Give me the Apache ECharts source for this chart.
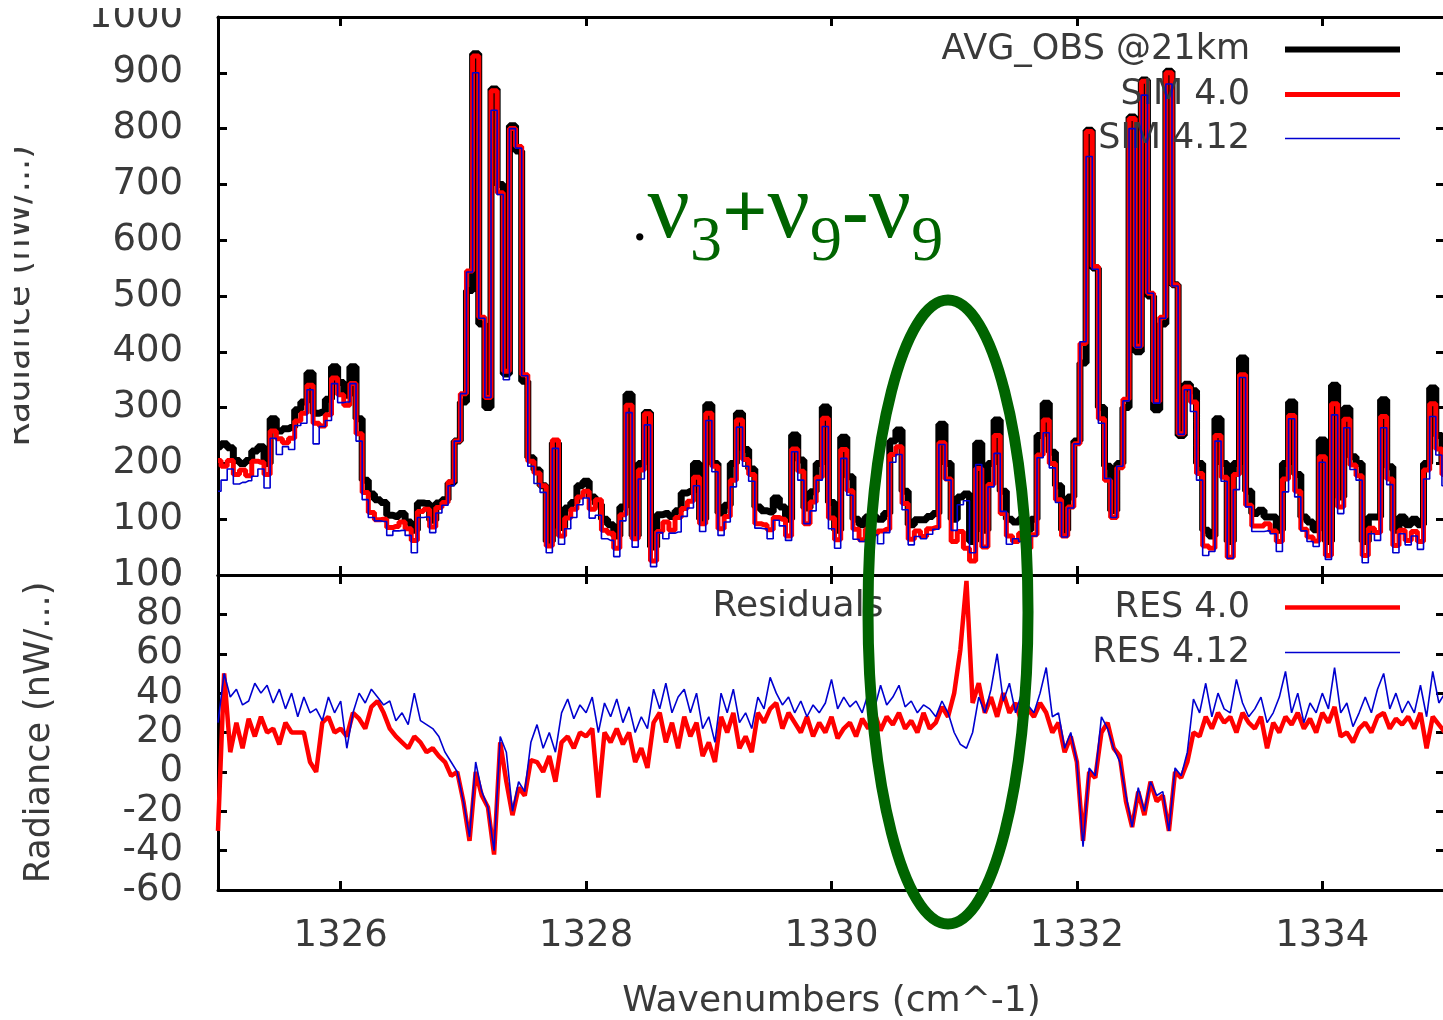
<!DOCTYPE html>
<html><head><meta charset="utf-8">
<script src="https://cdn.jsdelivr.net/npm/echarts@6/dist/echarts.min.js"></script>
<style>html,body{margin:0;padding:0;background:#fff}#c{width:1443px;height:1020px}</style>
</head><body><div id="c"></div><script>
const wavenumbers = [
1325,1325.05,1325.1,1325.15,1325.2,1325.25,1325.3,1325.35,1325.4,1325.45,1325.5,1325.55,1325.6,1325.65,1325.7,1325.75,1325.8,1325.85,1325.9,1325.95,
1326,1326.05,1326.1,1326.15,1326.2,1326.25,1326.3,1326.35,1326.4,1326.45,1326.5,1326.55,1326.6,1326.65,1326.7,1326.75,1326.8,1326.85,1326.9,1326.95,
1327,1327.05,1327.1,1327.15,1327.2,1327.25,1327.3,1327.35,1327.4,1327.45,1327.5,1327.55,1327.6,1327.65,1327.7,1327.75,1327.8,1327.85,1327.9,1327.95,
1328,1328.05,1328.1,1328.15,1328.2,1328.25,1328.3,1328.35,1328.4,1328.45,1328.5,1328.55,1328.6,1328.65,1328.7,1328.75,1328.8,1328.85,1328.9,1328.95,
1329,1329.05,1329.1,1329.15,1329.2,1329.25,1329.3,1329.35,1329.4,1329.45,1329.5,1329.55,1329.6,1329.65,1329.7,1329.75,1329.8,1329.85,1329.9,1329.95,
1330,1330.05,1330.1,1330.15,1330.2,1330.25,1330.3,1330.35,1330.4,1330.45,1330.5,1330.55,1330.6,1330.65,1330.7,1330.75,1330.8,1330.85,1330.9,1330.95,
1331,1331.05,1331.1,1331.15,1331.2,1331.25,1331.3,1331.35,1331.4,1331.45,1331.5,1331.55,1331.6,1331.65,1331.7,1331.75,1331.8,1331.85,1331.9,1331.95,
1332,1332.05,1332.1,1332.15,1332.2,1332.25,1332.3,1332.35,1332.4,1332.45,1332.5,1332.55,1332.6,1332.65,1332.7,1332.75,1332.8,1332.85,1332.9,1332.95,
1333,1333.05,1333.1,1333.15,1333.2,1333.25,1333.3,1333.35,1333.4,1333.45,1333.5,1333.55,1333.6,1333.65,1333.7,1333.75,1333.8,1333.85,1333.9,1333.95,
1334,1334.05,1334.1,1334.15,1334.2,1334.25,1334.3,1334.35,1334.4,1334.45,1334.5,1334.55,1334.6,1334.65,1334.7,1334.75,1334.8,1334.85,1334.9,1334.95,
1335];

const avgObs = [
230,235,228,205,200,205,222,230,200,280, 258,262,265,296,310,362,290,292,315,373,
345,322,373,280,170,145,135,130,107,105, 110,95,80,129,128,98,129,135,165,240,
310,510,934,450,300,871,700,360,805,760, 347,210,188,160,60,237,85,120,130,160,
168,140,127,100,90,70,122,324,70,200, 291,50,108,110,105,115,147,150,200,100,
305,200,111,125,200,290,225,190,122,115, 113,138,122,100,251,206,120,149,200,301,
130,80,247,176,100,90,104,104,100,110, 240,260,150,90,99,99,105,110,270,200,
100,140,145,60,236,80,200,278,150,100, 95,100,80,100,250,308,220,160,80,140,
240,380,797,550,300,195,115,200,300,821, 400,887,500,296,450,903,520,250,342,330,
200,80,70,280,200,60,200,389,150,110, 116,104,104,80,200,310,180,104,95,81,
242,60,340,140,299,212,200,60,104,104, 314,194,80,104,90,100,90,200,335,250,
200];

const sim40 = [
205,195,205,180,188,178,204,202,180,258, 244,237,245,276,290,340,272,267,287,353,
323,304,343,253,148,112,99,100,85,87, 95,83,62,114,118,86,121,130,167,240,
325,545,930,462,318,868,685,365,800,768, 359,204,183,160,52,242,70,102,118,140,
150,118,135,80,75,48,108,304,65,188, 289,25,78,95,80,103,119,132,175,92,
290,195,83,105,170,278,207,180,92,90, 81,103,100,70,226,186,92,131,175,281,
102,63,225,151,82,63,82,74,79,82, 216,230,128,64,79,69,83,85,237,172,
60,78,48,25,191,50,162,250,110,70, 60,75,48,72,215,278,200,135,70,122,
235,415,795,553,280,170,103,192,315,818, 410,885,505,311,462,900,520,253,337,310,
182,52,48,250,175,32,180,359,125,88, 88,92,79,60,172,286,150,82,68,61,
212,35,307,122,279,197,178,35,84,76, 284,172,53,80,62,78,60,188,307,226,
180];

const sim412 = [
150,170,190,163,166,169,177,190,156,245, 216,230,225,268,272,332,235,266,277,343,
309,310,343,240,135,103,97,96,71,79, 80,71,40,103,104,76,111,125,160,240,
325,543,900,460,318,833,682,350,800,765, 357,195,164,148,40,227,55,83,103,126,
138,102,107,65,62,33,97,291,50,172, 269,15,76,65,75,77,105,120,160,78,
277,185,71,95,158,265,195,168,84,83, 65,98,88,62,221,170,92,115,170,266,
83,48,209,143,64,60,64,72,56,76, 202,216,117,54,69,65,73,82,234,170,
80,126,133,40,198,50,158,218,114,55, 65,60,46,70,210,255,192,130,68,120,
235,418,750,548,272,173,103,195,312,800, 408,860,505,308,460,880,518,252,332,293,
170,35,42,240,168,30,153,354,122,78, 78,79,74,42,149,280,140,79,60,51,
202,28,287,110,264,189,170,22,74,62, 264,162,40,74,54,70,46,172,284,215,
160];

const res40 = [
-30,50,10,25,12,27,18,28,20,22, 14,25,20,20,20,5,0,25,28,20,
22,18,30,27,22,33,36,30,22,18, 15,12,18,15,10,12,8,5,-2,0,
-15,-35,0,-12,-18,-42,15,-5,-22,-8, -12,6,5,0,8,-5,15,18,12,20,
18,22,-13,20,15,22,14,20,5,12, 2,25,30,15,25,12,28,18,25,8,
15,5,28,20,30,12,18,10,30,25, 32,35,22,30,25,20,28,18,25,20,
28,17,22,25,18,27,22,30,21,28, 24,30,22,26,20,30,22,25,33,28,
40,62,97,35,45,30,38,28,40,30, 35,25,32,28,35,30,20,25,10,18,
5,-35,0,-3,20,25,12,8,-15,-28, -10,-22,-5,-15,-12,-30,0,-3,5,20,
18,28,22,30,25,28,20,30,25,22, 28,12,25,20,28,24,30,22,27,20,
30,25,33,18,20,15,22,25,20,28, 30,22,27,24,28,22,30,12,28,24,
20];

const res412 = [
25,50,38,42,34,36,45,40,44,35, 42,32,40,28,38,30,32,26,38,30,
36,12,30,40,35,42,38,34,36,26, 30,24,40,26,24,22,18,10,5,0,
-15,-33,5,-10,-18,-40,18,10,-20,-5, -10,15,24,12,20,10,30,37,27,34,
30,38,20,35,28,37,25,33,20,28, 22,42,32,45,30,38,42,30,40,22,
28,15,40,30,42,25,30,22,38,32, 48,40,34,38,30,36,28,34,30,35,
47,32,38,33,36,30,40,32,44,34, 38,44,33,36,30,34,32,28,36,30,
20,14,12,20,38,30,42,60,36,45, 30,40,34,30,40,53,28,30,12,20,
5,-38,2,-2,28,22,12,5,-12,-28, -8,-20,-5,-12,-10,-30,2,-2,10,37,
30,45,28,40,32,30,47,35,28,32, 38,25,30,38,51,30,40,25,35,30,
40,32,53,30,35,23,30,38,30,42, 50,32,40,30,36,30,44,28,51,35,
40];

const xTickValues = [1326, 1328, 1330, 1332, 1334];
const seriesNames = ['AVG_OBS @21km', 'SIM 4.0', 'SIM 4.12', 'RES 4.0', 'RES 4.12'];

function pairs(ys) { return wavenumbers.map((x, i) => [x, ys[i]]); }

const FONT = 'DejaVu Sans';
const TXT = '#3a3a3a';
const GREEN = '#006400';
const axisLine = { show: true, onZero: false, lineStyle: { color: '#000', width: 3 } };
const tickIn = { show: true, inside: true, length: 9, lineStyle: { color: '#000', width: 3 } };
const xTick = Object.assign({}, tickIn, { customValues: xTickValues });
const noSplit = { show: false };
const plainNum = v => String(v);

function xAx(grid, pos, withLabel) {
  const a = { gridIndex: grid, type: 'value', min: 1325, max: 1335, position: pos,
    axisLine: axisLine, axisTick: xTick, splitLine: noSplit,
    axisLabel: withLabel ? { show: true, customValues: xTickValues, formatter: plainNum, fontFamily: FONT, fontSize: 37, color: TXT, margin: 28 } : { show: false } };
  if (withLabel) {
    a.name = 'Wavenumbers (cm^-1)'; a.nameLocation = 'middle'; a.nameGap = 94;
    a.nameTextStyle = { fontFamily: FONT, fontSize: 36, color: TXT };
  }
  return a;
}
function yAx(grid, pos, min, max, step, withLabel, nameGap) {
  const a = { gridIndex: grid, type: 'value', min: min, max: max, interval: step, position: pos,
    axisLine: axisLine, axisTick: tickIn, splitLine: noSplit,
    axisLabel: withLabel ? { show: true, formatter: plainNum, fontFamily: FONT, fontSize: 37, color: TXT, margin: 35 } : { show: false } };
  if (withLabel) {
    a.name = 'Radiance (nW/...)'; a.nameLocation = 'middle'; a.nameGap = nameGap;
    a.nameTextStyle = { fontFamily: FONT, fontSize: 35, color: TXT };
  }
  return a;
}
function legendRow(name, top, h) {
  return { data: [{ name: name, icon: 'rect' }], orient: 'horizontal', right: 43, top: top, align: 'right', padding: 0,
    itemWidth: 115, itemHeight: h, selectedMode: false,
    textStyle: { fontFamily: FONT, fontSize: 35, color: TXT, padding: [0, 30, 0, 0] } };
}

const option = {
  animation: false,
  backgroundColor: '#fff',
  grid: [
    { left: 218, top: 17, width: 1227, height: 558, outerBoundsMode: 'none', containLabel: false },
    { left: 218, top: 575, width: 1227, height: 315, outerBoundsMode: 'none', containLabel: false }
  ],
  xAxis: [ xAx(0, 'bottom', false), xAx(0, 'top', false), xAx(1, 'bottom', true), xAx(1, 'top', false) ],
  yAxis: [
    yAx(0, 'left', 0, 1000, 100, true, 181), yAx(0, 'right', 0, 1000, 100, false),
    yAx(1, 'left', -60, 100, 20, true, 161), yAx(1, 'right', -60, 100, 20, false)
  ],
  legend: [
    legendRow(seriesNames[0], 32, 6), legendRow(seriesNames[1], 77, 5), legendRow(seriesNames[2], 121, 1.6),
    legendRow(seriesNames[3], 590, 4.5), legendRow(seriesNames[4], 635, 1.6)
  ],
  series: [
    { name: seriesNames[0], type: 'line', xAxisIndex: 0, yAxisIndex: 0, data: pairs(avgObs), step: 'middle',
      symbol: 'none', color: '#000', lineStyle: { width: 7, color: '#000' }, z: 2 },
    { name: seriesNames[1], type: 'line', xAxisIndex: 0, yAxisIndex: 0, data: pairs(sim40), step: 'middle',
      symbol: 'none', color: '#f00', lineStyle: { width: 5, color: '#f00' }, z: 3 },
    { name: seriesNames[2], type: 'line', xAxisIndex: 0, yAxisIndex: 0, data: pairs(sim412), step: 'middle',
      symbol: 'none', color: '#0000d0', lineStyle: { width: 1.6, color: '#0000d0' }, z: 4 },
    { name: seriesNames[3], type: 'line', xAxisIndex: 2, yAxisIndex: 2, data: pairs(res40),
      symbol: 'none', color: '#f00', lineStyle: { width: 4.5, color: '#f00' }, z: 3 },
    { name: seriesNames[4], type: 'line', xAxisIndex: 2, yAxisIndex: 2, data: pairs(res412),
      symbol: 'none', color: '#0000d0', lineStyle: { width: 1.6, color: '#0000d0' }, z: 4 }
  ],
  graphic: [
    { type: 'rect', shape: { x: 0, y: 80, width: 14, height: 430 }, style: { fill: '#fff' }, z: 100 },
    { type: 'rect', shape: { x: 80, y: 0, width: 120, height: 8 }, style: { fill: '#fff' }, z: 100 },
    { type: 'text', x: 798, y: 607, z: 100,
      style: { text: 'Residuals', font: '36px "DejaVu Sans"', fill: TXT, align: 'center', verticalAlign: 'middle' } },
    { type: 'text', x: 632, y: 275, z: 100,
      style: {
        text: '{d|.}{n|ν}{s|3}{o|+}{n|ν}{s|9}{o|-}{n|ν}{s|9}',
        align: 'left', verticalAlign: 'bottom',
        rich: {
          d: { fontFamily: 'Liberation Serif', fontSize: 62, fill: '#000', verticalAlign: 'bottom', padding: [0, 0, 20, 0] },
          n: { fontFamily: 'Liberation Serif', fontSize: 94, fill: GREEN, verticalAlign: 'bottom', padding: [0, 0, 16, 0] },
          s: { fontFamily: 'Liberation Serif', fontSize: 64, fill: GREEN, verticalAlign: 'bottom' },
          o: { fontFamily: 'Liberation Serif', fontSize: 80, fontWeight: 'bold', fill: GREEN, verticalAlign: 'bottom', padding: [0, 0, 18, 0] }
        }
      } },
    { type: 'ellipse', shape: { cx: 948, cy: 612, rx: 80, ry: 312 }, z: 100,
      style: { fill: 'none', stroke: GREEN, lineWidth: 11 } }
  ]
};

const chart = echarts.init(document.getElementById('c'), null, { renderer: 'canvas' });
chart.setOption(option);
</script></body></html>
